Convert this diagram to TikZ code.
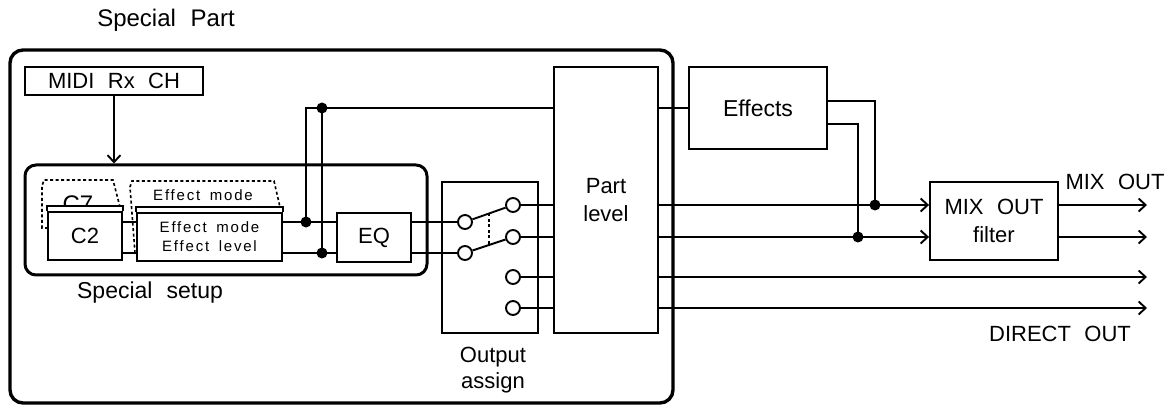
\documentclass[tikz,border=0pt]{standalone}
\usepackage{fontspec}
\setmainfont{Liberation Sans}[WordSpace=2.2]
\newfontfamily\spacedfont{Liberation Sans}[LetterSpace=12,WordSpace=1.6]
\usetikzlibrary{arrows.meta,calc}
\begin{document}
\begin{tikzpicture}[x=1pt,y=-1pt,line width=1.9pt,
  box/.style={draw,line width=1.9pt,inner sep=0pt,fill=white},
  txt/.style={font=\fontsize{22}{28}\selectfont,align=center},
  smalltxt/.style={font=\fontsize{15}{19}\selectfont\spacedfont,align=center},
  dot/.style={circle,fill,inner sep=0pt,minimum size=11pt},
  port/.style={circle,draw,line width=1.9pt,inner sep=0pt,minimum size=14pt,fill=white},
  arr/.style={-{Straight Barb[length=7pt,width=13pt]}},
  roundbox/.style={draw,line width=3.4pt,rounded corners=13pt,inner sep=0pt},
  dashedline/.style={line width=1.6pt,dash pattern=on 3pt off 2.5pt}]
\useasboundingbox (0,0) rectangle (1171,406);
% frames
\node[roundbox,minimum width=663pt,minimum height=353pt] (outer) at (341.5,226.5) {};
\node[txt,font=\fontsize{24}{28}\selectfont] (sptitle) at (166,20) {Special Part};
\node[box,txt,font=\fontsize{22}{24}\selectfont,minimum width=178pt,minimum height=28pt] (midi) at (114,81) {MIDI Rx CH};
\node[roundbox,line width=3pt,rounded corners=11pt,minimum width=402pt,minimum height=110pt] (setup) at (226,220) {};
\node[txt,font=\fontsize{23}{28}\selectfont] (setuplbl) at (150,293) {Special setup};
% C7 / C2
\draw[dashedline] (48,228) -- (42,228) -- (42,186) -- (44,180) -- (113,180) -- (120,207);
\node[txt,font=\fontsize{24}{28}\selectfont] (c7) at (78,204) {C7};
\node[box,txt,minimum width=74pt,minimum height=48pt] (c2) at (85,236) {C2};
\draw[fill=white] (c2.north west) -- ++(0,-5) -- ($(c2.north east)+(0,-5)$) -- (c2.north east);
% Effect mode
\draw[dashedline] (135,253) -- (130,187) -- (132,181) -- (274,181) -- (280,207);
\node[smalltxt] (efdash) at (203,195) {Effect mode};
\node[box,smalltxt,minimum width=145pt,minimum height=48pt] (efb) at (209.5,237) {Effect mode\\Effect level};
\draw[fill=white] (efb.north west) -- ++(0,-5) -- ($(efb.north east)+(0,-5)$) -- (efb.north east);
\node[box,txt,minimum width=74pt,minimum height=49pt] (eq) at (374,237.5) {EQ};
% output assign and part level
\node[box,minimum width=96pt,minimum height=151pt] (oa) at (490,257.5) {};
\node[txt,font=\fontsize{22}{26}\selectfont] (oalbl) at (493,370) {Output\\assign};
\node[box,txt,minimum width=104pt,minimum height=266pt] (pl) at (606,200) {Part\\level};
\node[port] (L1) at (465,222) {};
\node[port] (L2) at (465,253) {};
\node[port] (R1) at (513,205) {};
\node[port] (R2) at (513,237) {};
\node[port] (R3) at (513,277) {};
\node[port] (R4) at (513,308) {};
% effects and filter
\node[box,txt,font=\fontsize{23}{28}\selectfont,minimum width=138pt,minimum height=82pt] (fx) at (758,108) {Effects};
\node[box,txt,minimum width=128pt,minimum height=78pt] (flt) at (994,221) {MIX OUT\\filter};
\node[txt] (mixlbl) at (1115,182) {MIX OUT};
\node[txt] (dirlbl) at (1060,334) {DIRECT OUT};
% coordinates
\coordinate (ya) at (0,222);
\coordinate (yb) at (0,253);
\coordinate (tl) at (306,108);
\coordinate (fo1) at (0,101);
\coordinate (fo2) at (0,124);
\coordinate (xe) at (1147,0);
% dots
\node[dot] (d1) at (306,222) {};
\node[dot] (d2) at (322,253) {};
\node[dot] (d3) at (322,108) {};
\node[dot] (df1) at (875,205) {};
\node[dot] (df2) at (858,237) {};
% connectors
\draw[arr] (midi.south) -- (midi.south |- setup.north);
\draw (c2.east |- ya) -- (efb.west |- ya);
\draw (c2.east |- yb) -- (efb.west |- yb);
\draw (efb.east |- ya) -- (eq.west |- ya);
\draw (efb.east |- yb) -- (eq.west |- yb);
\draw (d1.center) -- (tl) -- (pl.west |- tl);
\draw (d2.center) -- (d3.center);
\draw (eq.east |- ya) -- (L1);
\draw (eq.east |- yb) -- (L2);
\draw (L1) -- (R1);
\draw (L2) -- (R2);
\draw[dashedline] ($(L1)!.5!(R1)$) -- ($(L2)!.5!(R2)$);
\draw (R1) -- (pl.west |- R1);
\draw (R2) -- (pl.west |- R2);
\draw (R3) -- (pl.west |- R3);
\draw (R4) -- (pl.west |- R4);
\draw (pl.east |- tl) -- (fx.west |- tl);
\draw (fx.east |- fo1) -- (df1 |- fo1) -- (df1.center);
\draw (fx.east |- fo2) -- (df2 |- fo2) -- (df2.center);
\draw[arr] (pl.east |- R1) -- (flt.west |- R1);
\draw[arr] (pl.east |- R2) -- (flt.west |- R2);
\draw[arr] (pl.east |- R3) -- (xe |- R3);
\draw[arr] (pl.east |- R4) -- (xe |- R4);
\draw[arr] (flt.east |- R1) -- (xe |- R1);
\draw[arr] (flt.east |- R2) -- (xe |- R2);
\end{tikzpicture}
\end{document}
